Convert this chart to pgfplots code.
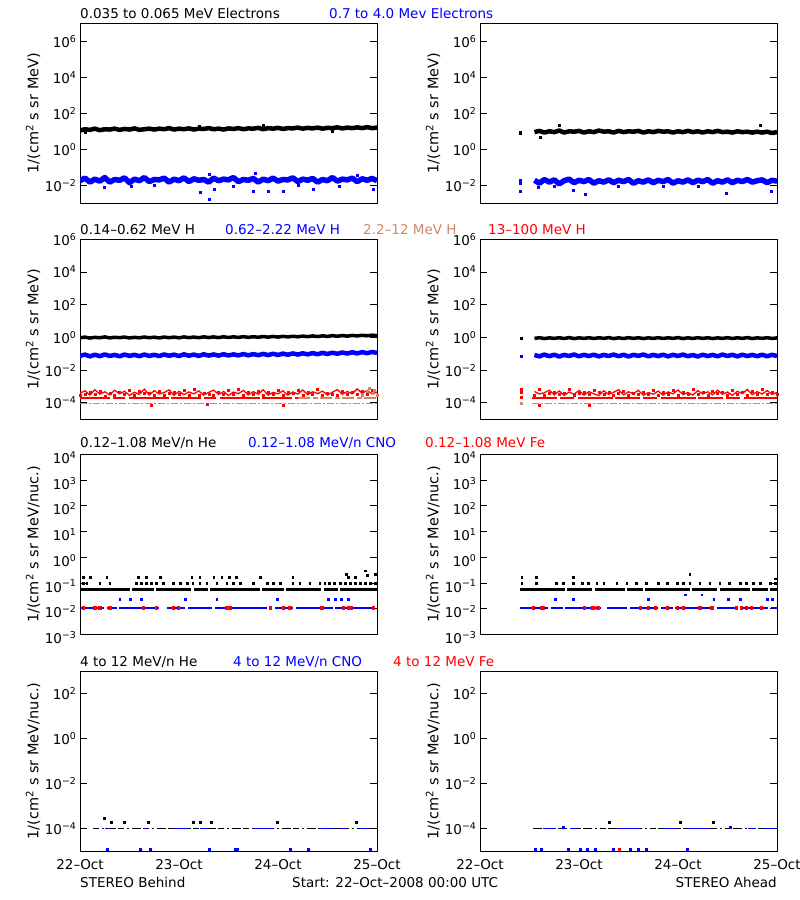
\documentclass[border=0pt]{standalone}
\usepackage{fontspec}
\setmainfont{DejaVu Sans}
\usepackage{pgfplots}
\usepackage{pgfplotstable}
\pgfplotsset{compat=1.18}
\definecolor{idlbrown}{RGB}{205,135,105}
\newcommand\idlfont{\fontsize{13.5bp}{16bp}\selectfont}
\newcommand\labfont{\fontsize{14.5bp}{17bp}\selectfont}
\newcommand\tk[1]{10\textsuperscript{#1}}

% electrons: x (days from 22-Oct), behind black/blue, ahead black/blue
\pgfplotstableread{
x lk lb rk rb
0.00 11 0.018 nan nan
0.05 13 0.025 nan nan
0.10 12 0.015 nan nan
0.15 14 0.022 nan nan
0.20 11.5 0.017 nan nan
0.25 13 0.027 nan nan
0.30 12.5 0.015 nan nan
0.35 14 0.021 nan nan
0.40 12 0.019 nan nan
0.45 13.5 0.026 nan nan
0.50 12.5 0.014 nan nan
0.55 14.5 0.022 9 0.019
0.60 12 0.018 10.5 0.013
0.65 13 0.027 8.5 0.021
0.70 14 0.016 10 0.015
0.75 12.5 0.021 9 0.020
0.80 14 0.020 11 0.012
0.85 13 0.025 8.5 0.018
0.90 15 0.015 10 0.022
0.95 12.5 0.022 9.5 0.014
1.00 14 0.018 10.5 0.019
1.05 13 0.026 8.5 0.016
1.10 14.5 0.016 10 0.021
1.15 12.5 0.023 9 0.013
1.20 14 0.019 11 0.018
1.25 13.5 0.021 9.5 0.015
1.30 15 0.015 10 0.020
1.35 13 0.025 8.5 0.014
1.40 14 0.018 10.5 0.019
1.45 12.5 0.022 9 0.016
1.50 14.5 0.020 10 0.021
1.55 13.5 0.027 9.5 0.013
1.60 15 0.016 10.5 0.018
1.65 13 0.021 8.5 0.015
1.70 14.5 0.019 10 0.020
1.75 14 0.024 9 0.014
1.80 15.5 0.015 10.5 0.019
1.85 13 0.022 9.5 0.016
1.90 15 0.018 10 0.021
1.95 14 0.025 8.5 0.013
2.00 15.5 0.017 10 0.018
2.05 13.5 0.021 9 0.015
2.10 15 0.020 10.5 0.020
2.15 14.5 0.026 9 0.014
2.20 16 0.016 10 0.019
2.25 14 0.022 8.5 0.016
2.30 15.5 0.019 10 0.021
2.35 14.5 0.024 9 0.013
2.40 16 0.015 10.5 0.018
2.45 14 0.021 9 0.015
2.50 15.5 0.018 9.5 0.020
2.55 15 0.027 8.5 0.014
2.60 16.5 0.017 10 0.019
2.65 14.5 0.022 9 0.016
2.70 16 0.020 9.5 0.021
2.75 15 0.025 8.5 0.015
2.80 16.5 0.016 9.5 0.018
2.85 15 0.023 8.5 0.020
2.90 17 0.019 9.5 0.014
2.95 15 0.024 8 0.019
3.00 16 0.018 9 0.017
}\elec

% protons: H 0.14-0.62 (k), 0.62-2.22 (b), 13-100 two samples (r1,r2)
\pgfplotstableread{
x lk lb lr1 lr2 rk rb rr1 rr2
0.00 0.95 0.075 4.0e-4 2.8e-4 nan nan nan nan
0.05 1.05 0.090 5.5e-4 3.3e-4 nan nan nan nan
0.10 0.92 0.070 3.0e-4 4.4e-4 nan nan nan nan
0.15 1.02 0.088 6.5e-4 3.6e-4 nan nan nan nan
0.20 0.96 0.072 3.4e-4 5.0e-4 nan nan nan nan
0.25 1.08 0.092 4.8e-4 2.7e-4 nan nan nan nan
0.30 0.94 0.074 3.1e-4 3.9e-4 nan nan nan nan
0.35 1.03 0.086 6.0e-4 2.9e-4 nan nan nan nan
0.40 0.97 0.071 3.6e-4 4.6e-4 nan nan nan nan
0.45 1.06 0.090 5.2e-4 3.2e-4 nan nan nan nan
0.50 0.93 0.075 2.9e-4 6.2e-4 nan nan nan nan
0.55 1.02 0.087 4.5e-4 3.0e-4 0.88 0.085 5.0e-4 3.0e-4
0.60 0.95 0.072 3.3e-4 5.4e-4 0.97 0.070 3.5e-4 6.5e-4
0.65 1.07 0.091 7.0e-4 3.8e-4 0.86 0.090 4.2e-4 2.8e-4
0.70 0.96 0.074 3.0e-4 4.2e-4 0.95 0.072 6.0e-4 3.7e-4
0.75 1.04 0.088 5.6e-4 2.8e-4 0.88 0.088 3.1e-4 4.8e-4
0.80 0.94 0.073 3.5e-4 4.9e-4 0.96 0.069 5.4e-4 3.3e-4
0.85 1.06 0.092 4.3e-4 3.1e-4 0.87 0.086 2.9e-4 4.1e-4
0.90 0.97 0.076 6.3e-4 3.7e-4 0.98 0.074 4.6e-4 6.8e-4
0.95 1.05 0.089 2.9e-4 4.5e-4 0.86 0.091 3.4e-4 2.9e-4
1.00 0.95 0.074 5.1e-4 3.4e-4 0.95 0.071 5.8e-4 3.9e-4
1.05 1.08 0.093 3.2e-4 5.8e-4 0.88 0.087 3.0e-4 4.4e-4
1.10 0.98 0.077 4.7e-4 2.8e-4 0.97 0.073 4.9e-4 3.2e-4
1.15 1.06 0.090 3.6e-4 6.6e-4 0.87 0.089 3.6e-4 6.1e-4
1.20 0.97 0.075 5.4e-4 3.0e-4 0.96 0.070 2.8e-4 4.3e-4
1.25 1.09 0.094 3.0e-4 4.1e-4 0.88 0.086 5.5e-4 3.5e-4
1.30 0.99 0.078 4.4e-4 3.5e-4 0.98 0.074 3.3e-4 4.7e-4
1.35 1.08 0.092 6.1e-4 2.9e-4 0.86 0.090 4.5e-4 3.0e-4
1.40 0.98 0.077 3.3e-4 4.8e-4 0.95 0.072 6.4e-4 3.8e-4
1.45 1.10 0.095 5.0e-4 3.6e-4 0.87 0.088 3.1e-4 5.2e-4
1.50 1.00 0.079 2.8e-4 5.6e-4 0.97 0.069 4.8e-4 2.9e-4
1.55 1.09 0.093 4.6e-4 3.2e-4 0.88 0.087 3.7e-4 4.2e-4
1.60 1.01 0.080 3.7e-4 6.9e-4 0.96 0.075 5.9e-4 3.3e-4
1.65 1.12 0.097 5.8e-4 3.0e-4 0.86 0.091 2.9e-4 4.6e-4
1.70 1.02 0.081 3.1e-4 4.3e-4 0.95 0.071 4.3e-4 3.6e-4
1.75 1.11 0.096 4.9e-4 3.5e-4 0.88 0.086 3.4e-4 6.3e-4
1.80 1.03 0.083 3.4e-4 5.3e-4 0.97 0.073 5.3e-4 3.1e-4
1.85 1.14 0.099 6.4e-4 2.9e-4 0.87 0.089 3.0e-4 4.4e-4
1.90 1.05 0.084 3.0e-4 4.6e-4 0.96 0.070 4.7e-4 3.5e-4
1.95 1.15 0.101 4.4e-4 3.3e-4 0.88 0.087 3.6e-4 5.7e-4
2.00 1.06 0.086 3.6e-4 6.0e-4 0.98 0.074 6.2e-4 3.0e-4
2.05 1.17 0.103 5.5e-4 3.1e-4 0.86 0.090 3.2e-4 4.5e-4
2.10 1.08 0.088 2.9e-4 4.4e-4 0.95 0.072 4.4e-4 3.4e-4
2.15 1.19 0.106 4.7e-4 3.7e-4 0.87 0.085 3.0e-4 6.6e-4
2.20 1.10 0.090 3.5e-4 5.7e-4 0.97 0.069 5.6e-4 3.3e-4
2.25 1.21 0.108 6.2e-4 3.0e-4 0.88 0.088 3.5e-4 4.6e-4
2.30 1.12 0.093 3.2e-4 4.5e-4 0.96 0.073 4.8e-4 2.9e-4
2.35 1.24 0.111 4.8e-4 3.4e-4 0.86 0.086 3.1e-4 5.4e-4
2.40 1.14 0.095 3.7e-4 6.7e-4 0.95 0.071 6.0e-4 3.7e-4
2.45 1.26 0.114 5.3e-4 3.1e-4 0.88 0.090 3.4e-4 4.3e-4
2.50 1.16 0.098 3.0e-4 4.2e-4 0.97 0.074 4.6e-4 3.1e-4
2.55 1.29 0.117 4.5e-4 3.6e-4 0.87 0.087 2.9e-4 6.0e-4
2.60 1.19 0.101 6.5e-4 3.0e-4 0.96 0.070 5.1e-4 3.5e-4
2.65 1.31 0.121 3.4e-4 5.1e-4 0.88 0.089 3.7e-4 4.5e-4
2.70 1.21 0.104 5.0e-4 3.3e-4 0.98 0.073 6.7e-4 3.0e-4
2.75 1.33 0.124 3.6e-4 4.7e-4 0.86 0.086 3.2e-4 4.9e-4
2.80 1.24 0.107 7.2e-4 3.2e-4 0.95 0.072 4.9e-4 3.6e-4
2.85 1.36 0.127 3.9e-4 5.5e-4 0.88 0.088 3.5e-4 7.0e-4
2.90 1.27 0.110 5.9e-4 3.4e-4 0.97 0.071 5.7e-4 3.2e-4
2.95 1.38 0.130 3.5e-4 6.3e-4 0.87 0.087 3.3e-4 4.6e-4
3.00 1.30 0.115 4.6e-4 3.1e-4 0.94 0.074 4.4e-4 3.4e-4
}\prot

% options shared by all eight panels
\pgfplotsset{
  width=297bp, height=180bp, scale only axis,
  xmin=0, xmax=3,
  axis line style={line width=1bp},
  tick align=inside,
  major tick length=7bp, minor tick length=4bp,
  every tick/.style={line width=1bp, black},
  xtick={0,1,2,3},
  minor xtick={0,0.25,0.5,0.75,1,1.25,1.5,1.75,2,2.25,2.5,2.75,3},
  xtick style={draw=none},
  xticklabels={},
  xticklabel style={yshift=-5bp},
  yminorticks=false,
  tick label style={font=\idlfont},
  ylabel style={font=\labfont, at={(axis description cs:-0.158,0.5)}, anchor=center},
  unbounded coords=jump,
  ptsA/.style={only marks, mark=square*, mark size=1bp},
  stripA/.style={line width=3bp, line join=round},
}

\begin{document}
\begin{tikzpicture}
\useasboundingbox (0,0) rectangle (800bp,900bp);

% ---------------- row 1: electrons ----------------
\begin{axis}[ymode=log, ymin=1e-3, ymax=1e7, ytick={1e-2,1,1e2,1e4,1e6},
    yticklabels={\tk{−2},\tk{0},\tk{2},\tk{4},\tk{6}},
    ylabel={1/(cm\textsuperscript{2} s sr MeV)},
    at={(80bp,696.7bp)}, anchor=south west]
\addplot[black, stripA, line width=4.5bp] table[x=x, y=lk] {\elec};
\addplot[blue, stripA, line width=5.5bp] table[x=x, y=lb] {\elec};
\addplot[black, ptsA] coordinates {(0.05,9) (1.85,21) (2.55,9.5) (1.2,19)};
\addplot[blue, ptsA] coordinates {(0.24,0.0083) (0.52,0.009) (0.75,0.010) (1.21,0.0039)
  (1.30,0.0017) (1.36,0.0063) (1.30,0.043) (1.55,0.009) (1.75,0.005) (1.77,0.045)
  (1.90,0.005) (2.05,0.005) (2.20,0.010) (2.36,0.0063) (2.62,0.009) (2.80,0.036) (2.96,0.006)};
\end{axis}
\begin{axis}[ymode=log, ymin=1e-3, ymax=1e7, ytick={1e-2,1,1e2,1e4,1e6},
    yticklabels={\tk{−2},\tk{0},\tk{2},\tk{4},\tk{6}},
    ylabel={1/(cm\textsuperscript{2} s sr MeV)},
    at={(480bp,696.7bp)}, anchor=south west]
\addplot[black, stripA, line width=4.5bp] table[x=x, y=rk] {\elec};
\addplot[blue, stripA, line width=5.5bp] table[x=x, y=rb] {\elec};
\addplot[black, ptsA] coordinates {(0.41,9) (0.41,7.5) (0.80,22) (2.83,22) (0.61,5)};
\addplot[blue, ptsA] coordinates {(0.41,0.019) (0.41,0.013) (0.41,0.0045) (0.59,0.008)
  (0.75,0.009) (0.94,0.0055) (1.06,0.0033) (1.40,0.009) (1.85,0.0085) (2.20,0.009)
  (2.49,0.0036) (2.94,0.005)};
\end{axis}

% ---------------- row 2: protons ----------------
\begin{axis}[ymode=log, ymin=1e-5, ymax=1e6, ytick={1e-4,1e-2,1,1e2,1e4,1e6},
    yticklabels={\tk{−4},\tk{−2},\tk{0},\tk{2},\tk{4},\tk{6}},
    ylabel={1/(cm\textsuperscript{2} s sr MeV)},
    at={(80bp,480.7bp)}, anchor=south west]
\addplot[idlbrown, line width=1.5bp, dash pattern=on 7bp off 2bp on 2bp off 2bp] coordinates {(0,9e-5) (3,9e-5)};
\addplot[red, line width=1.5bp, dash pattern=on 30bp off 3bp on 12bp off 4bp on 40bp off 2bp] coordinates {(0,2e-4) (2.2,2e-4)};
\addplot[idlbrown, line width=1.5bp, dash pattern=on 12bp off 3bp on 5bp off 2bp] coordinates {(2.2,2e-4) (3,2e-4)};
\addplot[red, line width=1.3bp] table[x=x, y=lr1] {\prot};
\addplot[red, ptsA] table[x=x, y=lr2] {\prot};
\addplot[red, ptsA] coordinates {(0.72,7e-5) (1.28,8e-5) (2.05,7.5e-5)};
\addplot[idlbrown, ptsA] coordinates {(2.85,3e-4) (2.90,5e-4) (2.92,8e-4) (2.95,4e-4) (2.97,6e-4) (3.0,3e-4)};
\addplot[black, stripA, line width=3.5bp] table[x=x, y=lk] {\prot};
\addplot[blue, stripA, line width=4.5bp] table[x=x, y=lb] {\prot};
\end{axis}
\begin{axis}[ymode=log, ymin=1e-5, ymax=1e6, ytick={1e-4,1e-2,1,1e2,1e4,1e6},
    yticklabels={\tk{−4},\tk{−2},\tk{0},\tk{2},\tk{4},\tk{6}},
    ylabel={1/(cm\textsuperscript{2} s sr MeV)},
    at={(480bp,480.7bp)}, anchor=south west]
\addplot[idlbrown, line width=1.5bp, dash pattern=on 7bp off 2bp on 2bp off 2bp] coordinates {(0.53,9e-5) (3,9e-5)};
\addplot[red, line width=1.5bp, dash pattern=on 25bp off 3bp on 14bp off 4bp on 35bp off 2bp] coordinates {(0.53,2e-4) (3,2e-4)};
\addplot[red, line width=1.3bp] table[x=x, y=rr1] {\prot};
\addplot[red, ptsA] table[x=x, y=rr2] {\prot};
\addplot[red, ptsA] coordinates {(0.42,7e-4) (0.42,4.5e-4) (0.42,2.4e-4) (0.60,7e-5) (1.10,7.5e-5)};
\addplot[idlbrown, ptsA] coordinates {(0.42,9e-5)};
\addplot[black, stripA, line width=3.5bp] table[x=x, y=rk] {\prot};
\addplot[blue, stripA, line width=4.5bp] table[x=x, y=rb] {\prot};
\addplot[black, ptsA] coordinates {(0.42,0.9)};
\addplot[blue, ptsA] coordinates {(0.42,0.075)};
\end{axis}

% ---------------- row 3: 0.12-1.08 MeV/n ions ----------------
\begin{axis}[ymode=log, ymin=1e-3, ymax=1e4, ytick={1e-3,1e-2,1e-1,1,1e1,1e2,1e3,1e4},
    yticklabels={\tk{−3},\tk{−2},\tk{−1},\tk{0},\tk{1},\tk{2},\tk{3},\tk{4}},
    yticklabel style={yshift=-3bp},
    ylabel={1/(cm\textsuperscript{2} s sr MeV/nuc.)},
    at={(80bp,265.5bp)}, anchor=south west]
\addplot[black, line width=2.5bp, dash pattern=on 50bp off 2bp on 22bp off 2bp on 35bp off 3bp on 14bp off 2bp] coordinates {(0,0.055) (3,0.055)};
\addplot[blue, line width=2bp, dash pattern=on 24bp off 3bp on 10bp off 2bp on 40bp off 8bp on 18bp off 3bp] coordinates {(0,0.011) (3,0.011)};
\addplot[red, ptsA, mark size=1.2bp] coordinates {(0.03,0.011) (0.15,0.011) (0.20,0.011) (0.30,0.011)
  (0.64,0.011) (0.77,0.011) (0.94,0.011) (0.99,0.011) (1.48,0.011) (1.52,0.011) (1.92,0.011)
  (2.05,0.011) (2.12,0.011) (2.44,0.011) (2.66,0.011) (2.71,0.011) (2.74,0.011) (2.96,0.011)};
\addplot[blue, ptsA, mark size=0.8bp] coordinates {(0.40,0.024) (0.51,0.024) (0.62,0.024) (1.06,0.024) (1.38,0.024)
  (1.99,0.024) (2.51,0.024) (2.58,0.024) (2.64,0.024) (2.71,0.024)};
\addplot[black, ptsA, mark size=0.8bp] coordinates {(0.034,0.1) (0.067,0.1) (0.20,0.1) (0.30,0.1) (0.57,0.1) (0.62,0.1)
  (0.67,0.1) (0.72,0.1) (0.77,0.1) (0.84,0.1) (0.94,0.1) (1.01,0.1) (1.08,0.1) (1.14,0.1)
  (1.21,0.1) (1.28,0.1) (1.38,0.1) (1.48,0.1) (1.55,0.1) (1.62,0.1) (1.75,0.1) (1.89,0.1)
  (1.95,0.1) (2.02,0.1) (2.15,0.1) (2.22,0.1) (2.32,0.1) (2.42,0.1) (2.47,0.1) (2.52,0.1)
  (2.57,0.1) (2.63,0.1) (2.68,0.1) (2.73,0.1) (2.78,0.1) (2.83,0.1) (2.88,0.1) (2.93,0.1) (2.98,0.1)
  (0.034,0.17) (0.10,0.17) (0.27,0.17) (0.59,0.17) (0.67,0.17) (0.81,0.17) (1.13,0.17) (1.21,0.17)
  (1.35,0.17) (1.43,0.17) (1.51,0.17) (1.58,0.17) (1.82,0.17) (2.15,0.17) (2.71,0.17) (2.78,0.17)
  (2.69,0.22) (2.88,0.30) (2.90,0.20) (2.98,0.22)};
\end{axis}
\begin{axis}[ymode=log, ymin=1e-3, ymax=1e4, ytick={1e-3,1e-2,1e-1,1,1e1,1e2,1e3,1e4},
    yticklabels={\tk{−3},\tk{−2},\tk{−1},\tk{0},\tk{1},\tk{2},\tk{3},\tk{4}},
    yticklabel style={yshift=-3bp},
    ylabel={1/(cm\textsuperscript{2} s sr MeV/nuc.)},
    at={(480bp,265.5bp)}, anchor=south west]
\addplot[black, line width=2.5bp, dash pattern=on 45bp off 2bp on 25bp off 3bp on 30bp off 2bp on 16bp off 2bp] coordinates {(0.40,0.055) (3,0.055)};
\addplot[blue, line width=2bp, dash pattern=on 28bp off 3bp on 12bp off 2bp on 36bp off 6bp on 20bp off 3bp] coordinates {(0.40,0.011) (3,0.011)};
\addplot[red, ptsA, mark size=1.2bp] coordinates {(0.54,0.011) (0.62,0.011) (0.64,0.011) (1.05,0.011)
  (1.14,0.011) (1.19,0.011) (1.62,0.011) (1.70,0.011) (1.77,0.011) (1.89,0.011) (1.99,0.011)
  (2.05,0.011) (2.22,0.011) (2.34,0.011) (2.59,0.011) (2.64,0.011) (2.69,0.011) (2.74,0.011) (2.84,0.011)};
\addplot[blue, ptsA, mark size=0.8bp] coordinates {(0.76,0.024) (0.94,0.024) (1.70,0.024) (2.07,0.035) (2.24,0.035)
  (2.36,0.024) (2.51,0.024) (2.63,0.024) (2.90,0.024) (2.95,0.024)};
\addplot[black, ptsA, mark size=0.8bp] coordinates {(0.42,0.1) (0.57,0.1) (0.77,0.1) (0.84,0.1) (0.94,0.1) (1.03,0.1)
  (1.09,0.1) (1.18,0.1) (1.25,0.1) (1.38,0.1) (1.48,0.1) (1.58,0.1) (1.68,0.1) (1.80,0.1)
  (1.89,0.1) (1.99,0.1) (2.05,0.1) (2.12,0.1) (2.22,0.1) (2.32,0.1) (2.42,0.1) (2.52,0.1)
  (2.63,0.1) (2.69,0.1) (2.76,0.1) (2.83,0.1) (2.93,0.1) (2.98,0.1)
  (0.42,0.17) (0.57,0.17) (0.94,0.17) (2.12,0.22) (2.98,0.15)};
\end{axis}

% ---------------- row 4: 4-12 MeV/n ions ----------------
\begin{axis}[ymode=log, ymin=1e-5, ymax=1e3, ytick={1e-4,1e-2,1,1e2},
    yticklabels={\tk{−4},\tk{−2},\tk{0},\tk{2}},
    ylabel={1/(cm\textsuperscript{2} s sr MeV/nuc.)},
    xticklabels={22–Oct,23–Oct,24–Oct,25–Oct},
    at={(80bp,49bp)}, anchor=south west]
\addplot[black, line width=1.5bp, dash pattern=on 6bp off 3bp on 2bp off 3bp on 9bp off 2bp] coordinates {(0.13,1e-4) (3,1e-4)};
\addplot[blue, line width=1.5bp] coordinates {(0.25,1e-4) (0.30,1e-4) (0.31,nan) (0.64,1e-4) (0.69,1e-4)
  (0.70,nan) (0.94,1e-4) (1.08,1e-4) (1.09,nan) (1.21,1e-4) (1.28,1e-4) (1.29,nan) (1.75,1e-4) (1.95,1e-4)
  (1.96,nan) (2.42,1e-4) (2.56,1e-4) (2.57,nan) (2.63,1e-4) (2.69,1e-4) (2.70,nan) (2.83,1e-4) (2.93,1e-4)};
\addplot[black, ptsA] coordinates {(0.24,3e-4) (0.32,2e-4) (0.45,2e-4) (0.69,2e-4) (1.14,2e-4)
  (1.21,2e-4) (1.33,2e-4) (1.99,2e-4) (2.79,2e-4)};
\addplot[blue, ptsA] coordinates {(0.27,1.2e-5) (0.61,1.2e-5) (0.71,1.2e-5) (1.30,1.2e-5) (1.57,1.2e-5)
  (1.59,1.2e-5) (2.12,1.2e-5) (2.31,1.2e-5) (2.93,1.2e-5)};
\end{axis}
\begin{axis}[ymode=log, ymin=1e-5, ymax=1e3, ytick={1e-4,1e-2,1,1e2},
    yticklabels={\tk{−4},\tk{−2},\tk{0},\tk{2}},
    ylabel={1/(cm\textsuperscript{2} s sr MeV/nuc.)},
    xticklabels={22–Oct,23–Oct,24–Oct,25–Oct},
    at={(480bp,49bp)}, anchor=south west]
\addplot[black, line width=1.5bp, dash pattern=on 9bp off 3bp on 2bp off 3bp on 6bp off 2bp] coordinates {(0.54,1e-4) (3,1e-4)};
\addplot[blue, line width=1.5bp] coordinates {(0.64,1e-4) (0.77,1e-4) (0.78,nan) (0.91,1e-4) (0.98,1e-4)
  (0.99,nan) (1.38,1e-4) (1.62,1e-4) (1.63,nan) (1.85,1e-4) (1.99,1e-4) (2.00,nan) (2.09,1e-4) (2.32,1e-4)
  (2.33,nan) (2.71,1e-4) (2.79,1e-4) (2.80,nan) (2.86,1e-4) (2.98,1e-4)};
\addplot[black, ptsA] coordinates {(1.30,2e-4) (2.02,2e-4) (2.36,2e-4)};
\addplot[blue, ptsA] coordinates {(0.84,1.2e-4) (2.53,1.2e-4) (0.56,1.2e-5) (0.62,1.2e-5) (0.89,1.2e-5)
  (1.01,1.2e-5) (1.08,1.2e-5) (1.16,1.2e-5) (1.35,1.2e-5) (1.52,1.2e-5) (1.60,1.2e-5) (1.68,1.2e-5) (2.09,1.2e-5)};
\addplot[red, ptsA] coordinates {(1.41,1.2e-5)};
\end{axis}

% ---------------- titles ----------------
\begin{scope}[every node/.style={font=\idlfont, inner sep=0pt, anchor=base west}]
\node at (80bp,881.7bp) {0.035 to 0.065 MeV Electrons};
\node[blue] at (329bp,881.7bp) {0.7 to 4.0 Mev Electrons};
\node at (80bp,665bp) {0.14–0.62 MeV H};
\node[blue] at (225bp,665bp) {0.62–2.22 MeV H};
\node[idlbrown] at (363bp,665bp) {2.2–12 MeV H};
\node[red] at (488bp,665bp) {13–100 MeV H};
\node at (80bp,452bp) {0.12–1.08 MeV/n He};
\node[blue] at (248bp,452bp) {0.12–1.08 MeV/n CNO};
\node[red] at (425bp,452bp) {0.12–1.08 MeV Fe};
\node at (80bp,233.3bp) {4 to 12 MeV/n He};
\node[blue] at (233bp,233.3bp) {4 to 12 MeV/n CNO};
\node[red] at (393bp,233.3bp) {4 to 12 MeV Fe};
\node at (80bp,13bp) {STEREO Behind};
\node at (292bp,13bp) {Start: 22–Oct–2008 00:00 UTC};
\node[anchor=base east] at (777bp,13bp) {STEREO Ahead};
\end{scope}
\end{tikzpicture}
\end{document}
